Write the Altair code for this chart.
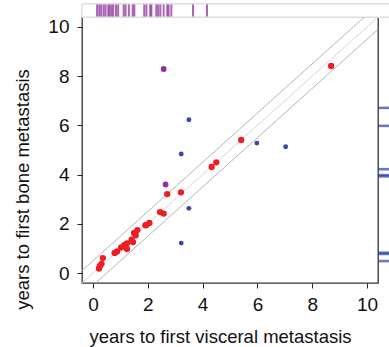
import altair as alt
import pandas as pd

# paired points: years to first visceral (x) and bone (y) metastasis
red_x = [8.69, 5.41, 4.50, 4.33, 2.71, 3.21, 2.45, 2.58, 1.95, 2.06, 1.62, 1.50, 1.56,
         1.41, 1.46, 1.24, 1.14, 1.03, 1.24, 0.88, 0.79, 0.36, 0.31, 0.25, 0.22, 1.91]
red_y = [8.41, 5.41, 4.50, 4.31, 3.21, 3.28, 2.48, 2.42, 1.95, 2.04, 1.75, 1.63, 1.54,
         1.36, 1.26, 1.21, 1.14, 1.04, 0.98, 0.88, 0.82, 0.61, 0.37, 0.28, 0.19, 1.94]
blue_x = [3.22, 3.50, 5.98, 7.03, 3.50, 3.22]
blue_y = [4.84, 6.23, 5.28, 5.13, 2.63, 1.22]
purple_x = [2.58, 2.65]
purple_y = [8.29, 3.60]

# marginal rugs
visceral_only = [0.15, 0.23, 0.30, 0.39, 0.46, 0.56, 0.61, 0.68, 0.74, 0.84, 0.92, 1.12,
                 1.19, 1.31, 1.45, 1.51, 1.87, 1.95, 2.09, 2.13, 2.31, 2.38, 2.46, 2.58,
                 2.71, 2.76, 2.86, 3.65, 4.16]
bone_only = [6.71, 5.98, 4.22, 3.98, 3.93, 0.83, 0.78, 0.49]

# reference lines y = x + offset
offsets = [-0.5, 0.0, 0.5]
domain = [-0.4, 10.4]
ticks = [0, 2, 4, 6, 8, 10]

red = pd.DataFrame({"x": red_x, "y": red_y})
blue = pd.DataFrame({"x": blue_x, "y": blue_y})
purple = pd.DataFrame({"x": purple_x, "y": purple_y})
lines = pd.DataFrame([
    {"x": d, "y": d + o, "o": str(o)} for o in offsets for d in domain
])
top_rug = pd.DataFrame({"x": visceral_only})
right_rug = pd.DataFrame({"y": bone_only})

xs = alt.Scale(domain=domain, nice=False, zero=False)
ys = alt.Scale(domain=domain, nice=False, zero=False)

xax = alt.Axis(values=ticks, title="years to first visceral metastasis", grid=False,
               domain=False, tickSize=5, tickColor="#222", labelFontSize=19,
               labelColor="#111", labelPadding=7, titleFontSize=18.5, titleFontWeight="normal",
               titleColor="#111", titlePadding=13, titleX=138)
yax = alt.Axis(values=ticks, title="years to first bone metastasis", grid=False,
               domain=False, tickSize=5, tickColor="#222", labelFontSize=19,
               labelColor="#111", labelPadding=8, titleFontSize=18.5, titleFontWeight="normal",
               titleColor="#111", titlePadding=15, titleY=172)

line_layer = alt.Chart(lines).mark_line(clip=True, strokeWidth=1).encode(
    x=alt.X("x:Q", scale=xs, axis=xax),
    y=alt.Y("y:Q", scale=ys, axis=yax),
    detail="o:N",
    color=alt.Color("o:N", scale=alt.Scale(domain=["-0.5", "0.0", "0.5"],
                                           range=["#b4b4b4", "#d6d6d6", "#b4b4b4"]),
                    legend=None),
)

def pts(df, color, size):
    return alt.Chart(df).mark_circle(opacity=1, color=color, size=size).encode(
        x=alt.X("x:Q", scale=xs),
        y=alt.Y("y:Q", scale=ys),
    )

top_panel = alt.Chart(top_rug).mark_rect(fill="white", stroke="#dddddd", strokeWidth=1).encode(
    x=alt.value(0), x2=alt.value(330), y=alt.value(-13), y2=alt.value(0)
)
top_layer = alt.Chart(top_rug).mark_tick(color="#8a2596", thickness=2, size=12).encode(
    x=alt.X("x:Q", scale=xs),
    y=alt.value(-6.5),
)
right_layer = alt.Chart(right_rug).mark_tick(color="#2f3fa0", thickness=2.6, size=24).encode(
    y=alt.Y("y:Q", scale=ys),
    x=alt.value(308),
)

chart = alt.layer(
    top_panel, line_layer,
    pts(red, "#ee1d23", 40), pts(blue, "#3a47a6", 24), pts(purple, "#8e3096", 34),
    top_layer, right_layer,
).properties(
    width=296, height=266,
    autosize=alt.AutoSizeParams(type="none"),
    padding={"left": 82, "top": 17, "right": 11, "bottom": 64},
).configure(font="Liberation Sans").configure_view(stroke="#333333", strokeWidth=1.3)

chart.save("out.html", embed_options={"renderer": "svg", "actions": False})
